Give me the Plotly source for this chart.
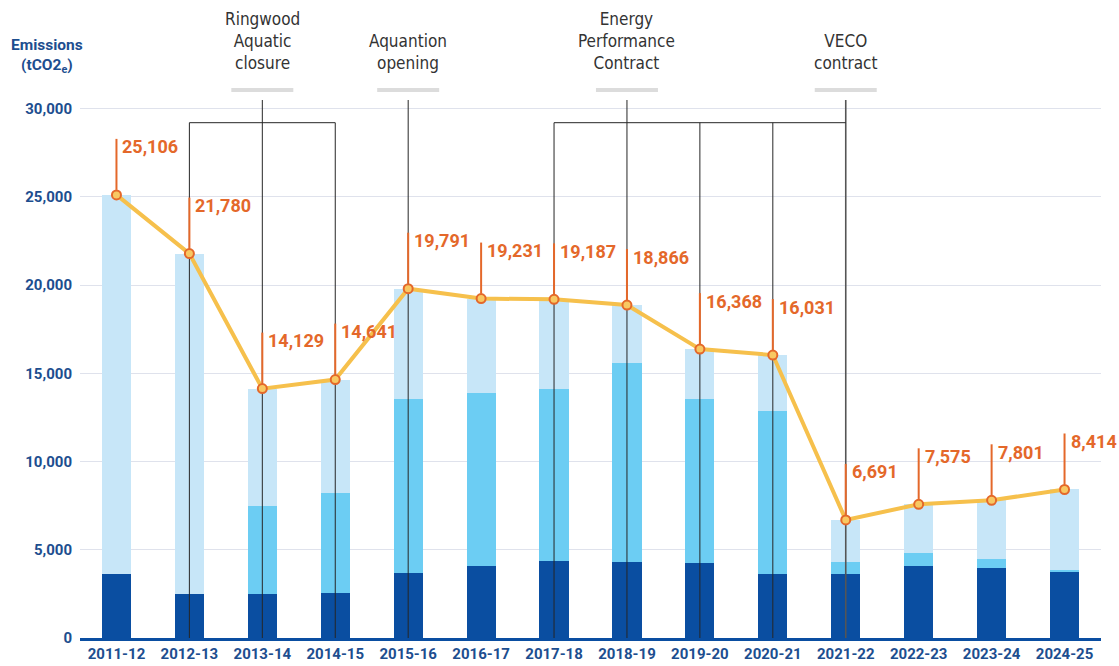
import plotly.graph_objects as go

# ---------------- data ----------------
years = ["2011-12", "2012-13", "2013-14", "2014-15", "2015-16", "2016-17", "2017-18",
         "2018-19", "2019-20", "2020-21", "2021-22", "2022-23", "2023-24", "2024-25"]
totals = [25106, 21780, 14129, 14641, 19791, 19231, 19187,
          18866, 16368, 16031, 6691, 7575, 7801, 8414]
dark_seg = [3620, 2500, 2500, 2550, 3670, 4100, 4380,
            4330, 4250, 3600, 3600, 4080, 3980, 3780]
mid_seg = [0, 0, 4980, 5640, 9850, 9770, 9720,
           11270, 9290, 9250, 710, 750, 470, 70]
light_seg = [t - d - m for t, d, m in zip(totals, dark_seg, mid_seg)]

event_labels = ["Ringwood<br>Aquatic<br>closure", "Aquantion<br>opening",
                "Energy<br>Performance<br>Contract", "VECO<br>contract"]
event_years = ["2013-14", "2015-16", "2018-19", "2021-22"]
bracket_spans = [("2012-13", "2014-15"), ("2017-18", "2021-22")]
bracket_drops = ["2012-13", "2014-15", "2017-18", "2019-20", "2020-21"]

y_ticks = [0, 5000, 10000, 15000, 20000, 25000, 30000]

# ---------------- layout constants ----------------
W, H = 1119, 666
PAGE_L, PAGE_R = 80, 1101     # plot area left/right on the page
PAGE_ZERO, PAGE_30K = 638.0, 108.5
M_L, M_R, M_T = PAGE_L, W - PAGE_R, 0
M_B = H - PAGE_ZERO
YMAX = 30000 * (H - M_T - M_B) / (PAGE_ZERO - PAGE_30K)


def py(pixel_y):
    """convert a page pixel row into data units on the y axis"""
    return (PAGE_ZERO - pixel_y) / (PAGE_ZERO - PAGE_30K) * 30000


BLUE_TXT = "#1D4E8F"
C_DARK, C_MID, C_LIGHT = "#0A4EA1", "#6CCDF3", "#C7E6F8"
C_LINE, C_MARK, C_ORANGE = "#F6C04C", "#F8C862", "#E4682A"
FONT = "Roboto, Arial, sans-serif"
EVENT_FONT = "'Liberation Sans Narrow', 'DejaVu Sans Condensed', 'Arial Narrow', sans-serif"

fig = go.Figure()

for seg, col in [(dark_seg, C_DARK), (mid_seg, C_MID), (light_seg, C_LIGHT)]:
    fig.add_trace(go.Bar(x=years, y=seg, width=0.4, marker=dict(color=col, line=dict(width=0)),
                         showlegend=False, hoverinfo="skip"))

# event lines (drawn above bars, below the total line)
top_line = py(100)
bracket_y = py(122.7)
for i, ey in enumerate(event_years):
    is_veco = i == len(event_years) - 1
    fig.add_trace(go.Scatter(x=[ey, ey], y=[0, top_line], mode="lines",
                             line=dict(color="#555555" if is_veco else "#262626",
                                       width=1.6 if is_veco else 1),
                             showlegend=False, hoverinfo="skip"))
for a, b in bracket_spans:
    fig.add_trace(go.Scatter(x=[a, b], y=[bracket_y, bracket_y], mode="lines",
                             line=dict(color="#262626", width=1), showlegend=False, hoverinfo="skip"))
for d in bracket_drops:
    fig.add_trace(go.Scatter(x=[d, d], y=[0, bracket_y], mode="lines",
                             line=dict(color="#262626", width=1), showlegend=False, hoverinfo="skip"))

# total line
fig.add_trace(go.Scatter(x=years, y=totals, mode="lines+markers",
                         line=dict(color=C_LINE, width=4),
                         marker=dict(size=9, color=C_MARK, line=dict(color=C_ORANGE, width=2)),
                         showlegend=False, hoverinfo="skip"))

shapes = []
annotations = []
for yr, v in zip(years, totals):
    shapes.append(dict(type="line", xref="x", yref="y", ysizemode="pixel", yanchor=v,
                       x0=yr, x1=yr, y0=5, y1=56, line=dict(color=C_ORANGE, width=2), layer="above"))
    annotations.append(dict(x=yr, y=v, xref="x", yref="y", text=f"<b>{v:,}</b>", showarrow=False,
                            xanchor="left", yanchor="middle", xshift=4, yshift=48,
                            font=dict(family=FONT, size=18, color=C_ORANGE)))

for lab, ey in zip(event_labels, event_years):
    shapes.append(dict(type="line", xref="x", yref="y", xsizemode="pixel", xanchor=ey,
                       x0=-31, x1=31, y0=py(90), y1=py(90),
                       line=dict(color="#DCDCDC", width=4), layer="above"))
    annotations.append(dict(x=ey, y=py(75), xref="x", yref="y", text=lab, showarrow=False,
                            xanchor="center", yanchor="bottom",
                            font=dict(family=EVENT_FONT, size=17, color="#333333")))

annotations.append(dict(x=(47 - PAGE_L) / (PAGE_R - PAGE_L), y=py(56), xref="paper", yref="y",
                        text="<b>Emissions</b><br><b>(tCO2<sub>e</sub>)</b>", showarrow=False,
                        xanchor="center", yanchor="middle",
                        font=dict(family=FONT, size=15.5, color=BLUE_TXT)))

fig.update_layout(
    width=W, height=H,
    margin=dict(l=M_L, r=M_R, t=M_T, b=M_B, autoexpand=False),
    barmode="stack",
    plot_bgcolor="white", paper_bgcolor="white",
    shapes=shapes, annotations=annotations,
    xaxis=dict(type="category", categoryorder="array", categoryarray=years,
               range=[-0.5, len(years) - 0.5],
               showgrid=False, showline=True, linecolor=C_DARK, linewidth=3,
               ticks="", tickfont=dict(family=FONT, size=15, color=BLUE_TXT, weight="bold"),
               automargin=False, fixedrange=True),
    yaxis=dict(range=[0, YMAX], tickvals=y_ticks, tickformat=",",
               showgrid=True, gridcolor="#DFE2EC", gridwidth=1, zeroline=False,
               showline=False, ticks="", ticklabelstandoff=7,
               tickfont=dict(family=FONT, size=15, color=BLUE_TXT, weight="bold"),
               automargin=False, fixedrange=True),
)

fig.write_html(
    "out.html",
    config={"displayModeBar": False},
    post_script="document.body.style.margin='0';document.body.style.overflow='hidden';",
)
